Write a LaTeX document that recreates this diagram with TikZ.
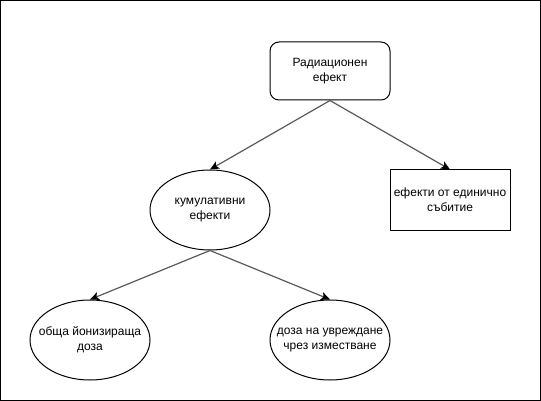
\documentclass[tikz,border=0pt]{standalone}
\usepackage{fontspec}
\setmainfont{Liberation Sans}
\usetikzlibrary{shapes.geometric,arrows.meta}
\begin{document}
\begin{tikzpicture}[x=1pt,y=-1pt,
  every node/.style={font=\fontsize{12}{15}\selectfont, align=center, inner sep=0pt},
  boxr/.style={draw, line width=1pt, rounded corners=9pt, minimum width=120pt, minimum height=58pt},
  boxs/.style={draw, line width=1pt, minimum width=120pt, minimum height=60pt},
  ell/.style={draw, line width=1pt, ellipse, minimum width=120pt, minimum height=80pt},
  conn/.style={draw=black!65, line width=1.2pt, -{Stealth[length=9pt,width=8pt,inset=2pt,fill=black,color=black]}}]
\useasboundingbox (0,0) rectangle (541,401);
\draw[line width=1pt] (0.5,0.5) rectangle (540.5,400.5);
\node[boxr] (root) at (330,71) {Радиационен\\ефект};
\node[ell] (cum) at (210,210) {};
\node (cumt) at (cum.center) {кумулативни\\ефекти};
\node[boxs] (see) at (450,200) {ефекти от единично\\събитие};
\node[ell] (tid) at (90,340) {};
\node (tidt) at (tid.center) {обща йонизираща\\доза};
\node[ell] (dd) at (330,340) {};
\node (ddt) at (dd.center) {доза на увреждане\\чрез изместване};
\draw[conn] (root.south) -- (cum.north);
\draw[conn] (root.south) -- (see.north);
\draw[conn] (cum.south) -- (tid.north);
\draw[conn] (cum.south) -- (dd.north);
\end{tikzpicture}
\end{document}
